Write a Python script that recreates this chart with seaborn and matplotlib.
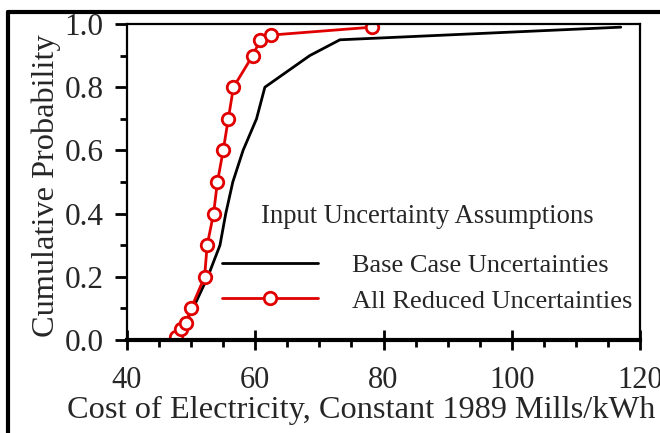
import matplotlib
matplotlib.use("Agg")
import matplotlib.pyplot as plt
from matplotlib.lines import Line2D
from matplotlib.ticker import MultipleLocator, FormatStrFormatter
import seaborn as sns
import pandas as pd

# Data
base_cost = [47.9, 49.0, 50.3, 52.6, 54.5, 55.4, 56.5, 58.1, 60.2, 61.5, 68.5, 73.2, 117.0]
base_prob = [0.01, 0.05, 0.10, 0.20, 0.30, 0.40, 0.50, 0.60, 0.70, 0.80, 0.90, 0.95, 0.99]
reduced_cost = [47.6, 48.4, 49.2, 50.0, 52.1, 52.5, 53.5, 54.1, 55.0, 55.8, 56.6, 59.6, 60.8, 62.5, 78.2]
reduced_prob = [0.01, 0.035, 0.055, 0.10, 0.20, 0.30, 0.40, 0.50, 0.60, 0.70, 0.80, 0.90, 0.95, 0.965, 0.99]
series_names = ["Base Case Uncertainties", "All Reduced Uncertainties"]
legend_title = "Input Uncertainty Assumptions"
x_label = "Cost of Electricity, Constant 1989 Mills/kWh"
y_label = "Cumulative Probability"

df_base = pd.DataFrame({"cost": base_cost, "prob": base_prob})
df_red = pd.DataFrame({"cost": reduced_cost, "prob": reduced_prob})

sns.set_style("ticks")
plt.rcParams["font.family"] = ["Liberation Serif", "DejaVu Serif"]

fig = plt.figure(figsize=(6.6, 4.33), dpi=100)
ax = fig.add_axes([127 / 660, (433 - 340) / 433, (640 - 127) / 660, (340 - 24) / 433])

red = "#e00000"
sns.lineplot(data=df_base, x="cost", y="prob", ax=ax, sort=False, color="black",
             linewidth=2.0, label=series_names[0], estimator=None)
sns.lineplot(data=df_red, x="cost", y="prob", ax=ax, sort=False, color=red,
             linewidth=2.0, marker="o", markersize=9, markerfacecolor="white",
             markeredgecolor=red, markeredgewidth=2.0, label=series_names[1], estimator=None)

ax.set_xlim(40, 120)
ax.set_ylim(0, 1.0)
ax.xaxis.set_major_locator(MultipleLocator(20))
ax.xaxis.set_minor_locator(MultipleLocator(5))
ax.yaxis.set_major_locator(MultipleLocator(0.2))
ax.yaxis.set_minor_locator(MultipleLocator(0.1))
ax.yaxis.set_major_formatter(FormatStrFormatter("%.1f"))

ax.tick_params(axis="y", which="major", labelsize=22.5, length=9, width=2, color="black", pad=8)
ax.tick_params(axis="y", which="minor", length=5, width=2, color="black")
ax.tick_params(axis="x", which="major", labelsize=22, direction="inout", length=14, width=2,
               color="black", pad=12)
ax.tick_params(axis="x", which="minor", length=5, width=2, color="black")

for s in ["top", "right", "left"]:
    ax.spines[s].set_visible(True)
    ax.spines[s].set_linewidth(1.6)
    ax.spines[s].set_color("black")
ax.spines["bottom"].set_linewidth(3.0)
ax.spines["bottom"].set_color("black")

ax.set_xlabel(x_label, fontsize=23.3)
ax.xaxis.set_label_coords((361.5 - 127) / 513, (340 - 396) / 316)
ax.set_ylabel(y_label, fontsize=23.3)
ax.yaxis.set_label_coords((61 - 127) / 513, 0.49)

leg = ax.legend(title=legend_title, frameon=False, fontsize=19, title_fontsize=19.2,
                loc="upper left", bbox_to_anchor=((222 - 127) / 513, (340 - 204) / 316),
                borderpad=0, borderaxespad=0, handlelength=3.64,
                handletextpad=1.29, labelspacing=0.44)
leg._legend_box.sep = 18

# Outer frame lines (top and left)
fig.add_artist(Line2D([8 / 660, 1.0], [1 - 11.5 / 433, 1 - 11.5 / 433], transform=fig.transFigure,
                      color="black", linewidth=3.0))
fig.add_artist(Line2D([8 / 660, 8 / 660], [0, 1 - 11.5 / 433], transform=fig.transFigure,
                      color="black", linewidth=3.0))

fig.savefig("out.png", dpi=100)
